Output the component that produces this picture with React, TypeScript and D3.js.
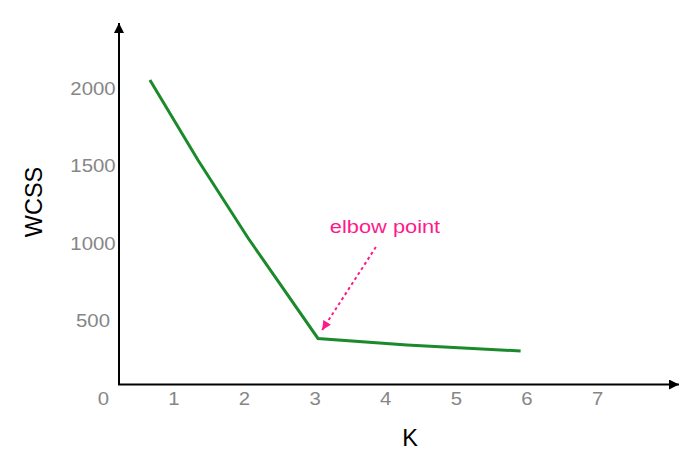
import React, { useRef, useEffect } from 'react';
import * as d3 from 'd3';

// elbow curve
const kValues = [0.66, 1.34, 2.05, 3.04, 4.3, 5.91];
const wcssValues = [2052, 1535, 1032, 384, 342, 303];

const xTicks = [0, 1, 2, 3, 4, 5, 6, 7];
const yTicks = [500, 1000, 1500, 2000];

const annotationText = 'elbow point';
const annotationFrom = [3.86, 974];
const annotationTo = [3.1, 439];

const App = () => {
    const svgRef = useRef<SVGSVGElement>(null);

    useEffect(() => {
        drawChart();
    }, []);

    const drawChart = () => {
        const svg = d3.select(svgRef.current);
        svg.selectAll('*').remove();

        const width = 683;
        const height = 458;
        const font = '"Liberation Sans", Arial, Helvetica, sans-serif';
        const grey = '#868686';
        const pink = '#ff1a8c';
        const green = '#1b8a2b';

        // axis frame
        const axisX = 119;
        const axisY = 384.5;
        const axisTop = 23;
        const axisRight = 679;

        const x = d3.scaleLinear().domain([0, 7]).range([103.3, 597.6]);
        const y = d3.scaleLinear().domain([0, 2000]).range([398, 88]);

        svg.attr('width', width).attr('height', height);

        const defs = svg.append('defs');
        defs.append('marker')
            .attr('id', 'blackHead')
            .attr('viewBox', '0 0 10 10')
            .attr('refX', 10)
            .attr('refY', 5)
            .attr('markerUnits', 'userSpaceOnUse')
            .attr('markerWidth', 11)
            .attr('markerHeight', 10)
            .attr('orient', 'auto')
            .append('path')
            .attr('d', 'M0,0 L10,5 L0,10 Z')
            .attr('fill', '#000');

        defs.append('marker')
            .attr('id', 'pinkHead')
            .attr('viewBox', '0 0 10 10')
            .attr('refX', 10)
            .attr('refY', 5)
            .attr('markerUnits', 'userSpaceOnUse')
            .attr('markerWidth', 10)
            .attr('markerHeight', 9)
            .attr('orient', 'auto')
            .append('path')
            .attr('d', 'M0,0 L10,5 L0,10 Z')
            .attr('fill', pink);

        // axes
        svg.append('line')
            .attr('x1', axisX).attr('y1', axisY)
            .attr('x2', axisX).attr('y2', axisTop)
            .attr('stroke', '#000')
            .attr('stroke-width', 2)
            .attr('marker-end', 'url(#blackHead)');

        svg.append('line')
            .attr('x1', axisX - 1).attr('y1', axisY)
            .attr('x2', axisRight).attr('y2', axisY)
            .attr('stroke', '#000')
            .attr('stroke-width', 2)
            .attr('marker-end', 'url(#blackHead)');

        // tick labels
        svg.append('g')
            .selectAll('text')
            .data(xTicks)
            .enter().append('text')
            .attr('transform', d => `translate(${x(d)},404.5) scale(1.1,1)`)
            .attr('text-anchor', 'middle')
            .style('font-family', font)
            .style('font-size', '18.5px')
            .attr('fill', grey)
            .text(d => d);

        svg.append('g')
            .selectAll('text')
            .data(yTicks)
            .enter().append('text')
            .attr('transform', d => `translate(93,${y(d) + 6.6}) scale(1.1,1)`)
            .attr('text-anchor', 'middle')
            .style('font-family', font)
            .style('font-size', '18.5px')
            .attr('fill', grey)
            .text(d => d);

        // axis titles
        svg.append('text')
            .attr('transform', 'translate(41.5,202) rotate(-90)')
            .attr('text-anchor', 'middle')
            .style('font-family', font)
            .style('font-size', '23.5px')
            .attr('fill', '#000')
            .text('WCSS');

        svg.append('text')
            .attr('x', 410)
            .attr('y', 446)
            .attr('text-anchor', 'middle')
            .style('font-family', font)
            .style('font-size', '23.5px')
            .attr('fill', '#000')
            .text('K');

        // the curve
        const line = d3.line<number>()
            .x((d, i) => x(kValues[i]))
            .y(d => y(d));

        svg.append('path')
            .datum(wcssValues)
            .attr('d', line)
            .attr('fill', 'none')
            .attr('stroke', green)
            .attr('stroke-width', 3)
            .attr('stroke-linejoin', 'miter');

        // annotation
        svg.append('line')
            .attr('x1', x(annotationFrom[0])).attr('y1', y(annotationFrom[1]))
            .attr('x2', x(annotationTo[0])).attr('y2', y(annotationTo[1]))
            .attr('stroke', pink)
            .attr('stroke-width', 2)
            .attr('stroke-dasharray', '3,3')
            .attr('marker-end', 'url(#pinkHead)');

        svg.append('text')
            .attr('transform', `translate(385,233) scale(1.18,1)`)
            .attr('text-anchor', 'middle')
            .style('font-family', font)
            .style('font-size', '18.5px')
            .attr('fill', pink)
            .text(annotationText);
    };

    return (
        <svg ref={svgRef} style={{ position: 'absolute', left: 0, top: 0 }}></svg>
    );
};

export default App;
